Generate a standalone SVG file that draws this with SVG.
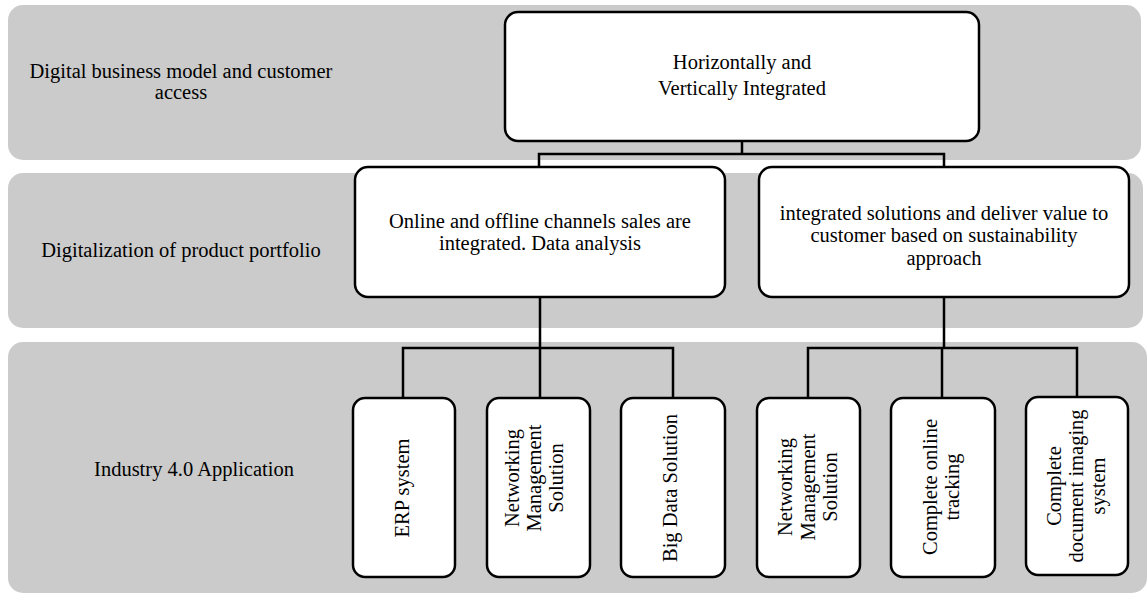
<svg xmlns="http://www.w3.org/2000/svg" width="1147" height="595" viewBox="0 0 1147 595">
<style>
.band{fill:#cbcbcb}
.box{fill:#fff;stroke:#000;stroke-width:2.5}
.t{font-family:"Liberation Serif","Times New Roman",serif;font-size:20.5px;fill:#000}
.c{text-anchor:middle}
.ln{fill:none;stroke:#000;stroke-width:2.5}
</style>
<rect width="1147" height="595" fill="#fff"/>
<g id="bands">
<rect class="band" x="8" y="5" width="1133" height="155" rx="15"/>
<rect class="band" x="8" y="173" width="1135" height="155" rx="15"/>
<rect class="band" x="8" y="342" width="1139" height="251" rx="15"/>
<text class="t c" x="181" y="78">Digital business model and customer</text>
<text class="t c" x="181" y="99">access</text>
<text class="t c" x="181" y="257">Digitalization of product portfolio</text>
<text class="t c" x="194" y="476">Industry 4.0 Application</text>
</g>
<g id="connectors">
<path class="ln" d="M742 141V154M539 167V154H944V167"/>
<path class="ln" d="M540 297V348M403 398V348H673V398M540 348V398"/>
<path class="ln" d="M944 297V348M808 398V348H1077V397M942 348V398"/>
</g>
<g id="top">
<rect class="box" x="505" y="12" width="474" height="129" rx="13"/>
<text class="t c" x="742" y="69">Horizontally and</text>
<text class="t c" x="742" y="95">Vertically Integrated</text>
</g>
<g id="mid-left">
<rect class="box" x="355" y="167" width="370" height="130" rx="13"/>
<text class="t c" x="540" y="228">Online and offline channels sales are</text>
<text class="t c" x="540" y="250">integrated. Data analysis</text>
</g>
<g id="mid-right">
<rect class="box" x="759" y="167" width="370" height="130" rx="13"/>
<text class="t c" x="944" y="220">integrated solutions and deliver value to</text>
<text class="t c" x="944" y="242">customer based on sustainability</text>
<text class="t c" x="944" y="265">approach</text>
</g>
<g id="erp">
<rect class="box" x="353" y="398" width="102" height="179" rx="12"/>
<text class="t c" transform="translate(409,488) rotate(-90)">ERP system</text>
</g>
<g id="nms1">
<rect class="box" x="487" y="398" width="103" height="179" rx="12"/>
<text class="t c" transform="translate(540,478) rotate(-90)"><tspan x="0" y="-21">Networking</tspan><tspan x="0" y="1">Management</tspan><tspan x="0" y="23">Solution</tspan></text>
</g>
<g id="bigdata">
<rect class="box" x="621" y="398" width="104" height="179" rx="12"/>
<text class="t c" transform="translate(677,488) rotate(-90)">Big Data Solution</text>
</g>
<g id="nms2">
<rect class="box" x="757" y="398" width="103" height="179" rx="12"/>
<text class="t c" transform="translate(814,487) rotate(-90)"><tspan x="0" y="-22">Networking</tspan><tspan x="0" y="0.5">Management</tspan><tspan x="0" y="23">Solution</tspan></text>
</g>
<g id="tracking">
<rect class="box" x="891" y="398" width="104" height="179" rx="12"/>
<text class="t c" transform="translate(947,487) rotate(-90)"><tspan x="0" y="-10">Complete online</tspan><tspan x="0" y="12">tracking</tspan></text>
</g>
<g id="imaging">
<rect class="box" x="1026" y="397" width="102" height="178" rx="12"/>
<text class="t c" transform="translate(1083,486) rotate(-90)"><tspan x="0" y="-22">Complete</tspan><tspan x="0" y="0">document imaging</tspan><tspan x="0" y="22">system</tspan></text>
</g>
</svg>
